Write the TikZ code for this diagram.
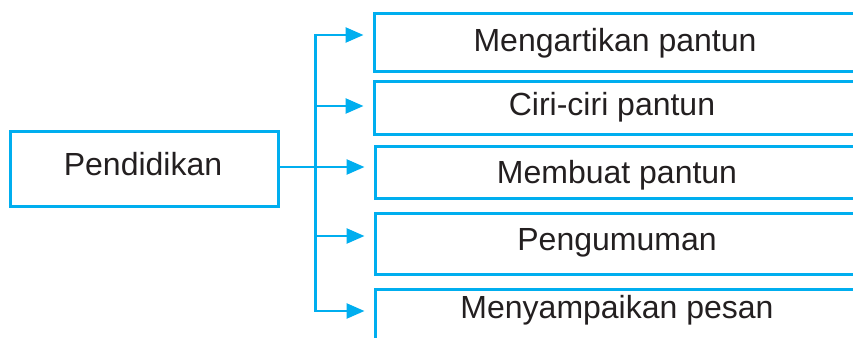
\documentclass[tikz,border=0pt]{standalone}
\usepackage{fontspec}
\setmainfont{Liberation Sans}
\usetikzlibrary{arrows.meta}
\definecolor{cyanline}{HTML}{00AEEF}
\definecolor{txt}{HTML}{231F20}
\tikzset{
  boxline/.style={draw=cyanline, line width=3pt},
  conn/.style={draw=cyanline, line width=2.6pt},
  arr/.style={conn, -{Triangle[length=18pt,width=15pt]}, shorten >=9pt},
  lbl/.style={anchor=base, inner sep=0pt, text=txt, font=\fontsize{32}{38}\selectfont},
}
\begin{document}
\begin{tikzpicture}[x=1pt,y=-1pt]
\useasboundingbox (0,0) rectangle (853,337);
\clip (0,0) rectangle (853,337);
% boxes
\node[boxline, minimum width=267.5pt, minimum height=75pt, inner sep=0pt] (p) at (144.25,168.5) {};
\node[boxline, minimum width=490pt, minimum height=57pt, inner sep=0pt] (b1) at (619,42.5) {};
\node[boxline, minimum width=490pt, minimum height=53pt, inner sep=0pt] (b2) at (619,107.5) {};
\node[boxline, minimum width=490pt, minimum height=52pt, inner sep=0pt] (b3) at (620,172) {};
\node[boxline, minimum width=490pt, minimum height=61pt, inner sep=0pt] (b4) at (620,243.5) {};
\node[boxline, minimum width=490pt, minimum height=71pt, inner sep=0pt] (b5) at (620,324.5) {};
% labels
\node[lbl] (lp) at (143,175) {Pendidikan};
\node[lbl] (l1) at (615,52) {Mengartikan pantun};
\node[lbl] (l2) at (612,115) {Ciri-ciri pantun};
\node[lbl] (l3) at (617,183) {Membuat pantun};
\node[lbl] (l4) at (617,250) {Pengumuman};
\node[lbl] (l5) at (617,318) {Menyampaikan pesan};
% connectors
\coordinate (t1) at (315.5,35);
\coordinate (t2) at (315.5,106);
\coordinate (t3) at (315.5,167);
\coordinate (t4) at (315.5,236);
\coordinate (t5) at (315.5,311);
\draw[conn, line cap=rect] (t1) -- (t5);
\draw[conn] (p.east |- t3) -- (t3);
\draw[arr] (t1) -- (t1 -| b1.west);
\draw[arr] (t2) -- (t2 -| b2.west);
\draw[arr] (t3) -- (t3 -| b3.west);
\draw[arr] (t4) -- (t4 -| b4.west);
\draw[arr] (t5) -- (t5 -| b5.west);
\end{tikzpicture}
\end{document}
